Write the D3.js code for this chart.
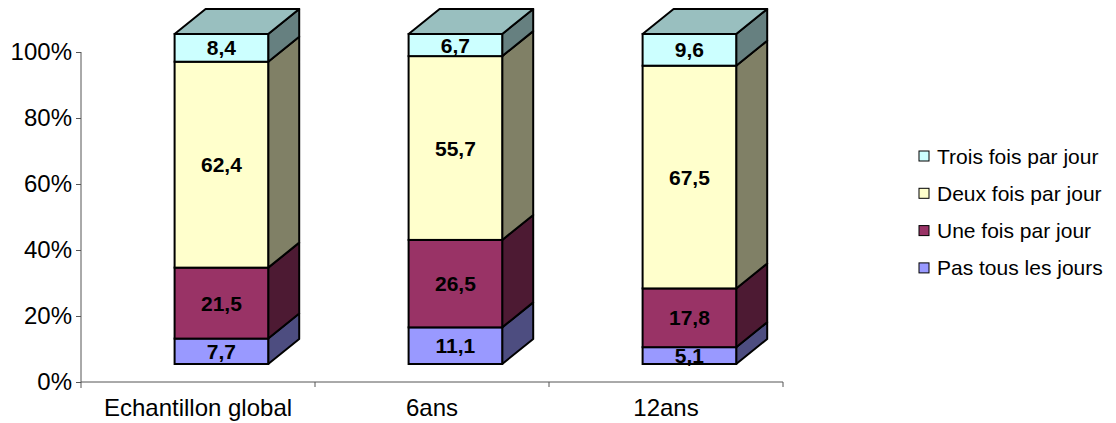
<!DOCTYPE html>
<html><head><meta charset="utf-8">
<script src="https://cdn.jsdelivr.net/npm/d3@7"></script>
<style>
html,body{margin:0;padding:0;background:#fff;}
svg{display:block;font-family:"Liberation Sans",Arial,sans-serif;}
</style></head>
<body><svg id="c" width="1116" height="423"></svg>
<script>
const categories = ["Echantillon global", "6ans", "12ans"];
const seriesNames = ["Pas tous les jours", "Une fois par jour", "Deux fois par jour", "Trois fois par jour"];
const pasTous = [7.7, 11.1, 5.1];
const uneFois = [21.5, 26.5, 17.8];
const deuxFois = [62.4, 55.7, 67.5];
const troisFois = [8.4, 6.7, 9.6];
const yTicks = [0, 20, 40, 60, 80, 100];
const frontColors = ["#9999FF", "#993366", "#FFFFCC", "#CCFFFF"];
const sideColors = ["#4D4D80", "#4D1A33", "#808066", "#668080"];
const topColor = "#99BFBF";

const seriesValues = [pasTous, uneFois, deuxFois, troisFois];
const svg = d3.select("#c");
const x = d3.scaleBand().domain(categories).range([81, 783]);
const y = d3.scaleLinear().domain([0, 100]).range([382, 52]);
const dx = 31, dy = -25, fOff = -18;

// axes
const axisColor = "#555";
const gy = svg.append("g").attr("transform","translate(81,0)")
  .call(d3.axisLeft(y).tickValues(yTicks).tickSize(5).tickPadding(4).tickFormat(d => d + "%"));
gy.select(".domain").attr("stroke", axisColor).attr("d", `M0,${y(100)}V${y(0)+6}`);
gy.selectAll(".tick line").attr("stroke", axisColor);
gy.selectAll(".tick text").attr("font-size", 24).attr("fill","#000")
  .attr("font-family","Liberation Sans, Arial, sans-serif");

const gx = svg.append("g").attr("transform",`translate(0,${y(0)})`)
  .call(d3.axisBottom(x).tickSize(0).tickPadding(17));
gx.select(".domain").attr("stroke", axisColor).attr("d", `M81,0H783`);
gx.selectAll(".tick text").attr("font-size", 24).attr("fill","#000")
  .attr("font-family","Liberation Sans, Arial, sans-serif");
// category separator ticks
gx.selectAll(".sep").data(categories).enter().append("line")
  .attr("x1", d => x(d) + x.bandwidth()).attr("x2", d => x(d) + x.bandwidth())
  .attr("y1", 0).attr("y2", 5).attr("stroke", axisColor);

// bars
const bw = x.bandwidth() * 0.4;
categories.forEach((cat, ci) => {
  const x0 = x(cat) + x.bandwidth() * 0.4;
  const g = svg.append("g");
  let cum = 0;
  const segs = seriesValues.map((vals, si) => {
    const s = {si, v: vals[ci], y0: cum, y1: cum + vals[ci]};
    cum += vals[ci];
    return s;
  });
  segs.forEach(s => {
    const yt = y(s.y1) + fOff, yb = y(s.y0) + fOff;
    g.append("path")
      .attr("d", `M${x0+bw},${yt}L${x0+bw+dx},${yt+dy}L${x0+bw+dx},${yb+dy}L${x0+bw},${yb}Z`)
      .attr("fill", sideColors[s.si]).attr("stroke","#000").attr("stroke-width",2).attr("stroke-linejoin","round");
    g.append("rect").attr("x", x0).attr("y", yt).attr("width", bw).attr("height", yb - yt)
      .attr("fill", frontColors[s.si]).attr("stroke","#000").attr("stroke-width",2);
  });
  const top = y(cum) + fOff;
  g.append("path")
    .attr("d", `M${x0},${top}L${x0+dx},${top+dy}L${x0+bw+dx},${top+dy}L${x0+bw},${top}Z`)
    .attr("fill", topColor).attr("stroke","#000").attr("stroke-width",2).attr("stroke-linejoin","round");
  segs.forEach(s => {
    const yc = (y(s.y1) + y(s.y0)) / 2 + fOff;
    g.append("text").attr("x", x0 + bw/2).attr("y", yc).attr("dy","0.36em")
      .attr("text-anchor","middle").attr("font-size",21).attr("font-weight","bold")
      .text(String(s.v).replace(".", ","));
  });
});

// legend
const legendOrder = [3, 2, 1, 0];
const lg = svg.append("g");
legendOrder.forEach((si, i) => {
  const cy = 156 + i * 37.3;
  lg.append("rect").attr("x", 919).attr("y", cy - 5).attr("width", 10).attr("height", 10)
    .attr("fill", frontColors[si]).attr("stroke","#000").attr("stroke-width",1);
  lg.append("text").attr("x", 937).attr("y", cy).attr("dy","0.36em")
    .attr("font-size", 21).text(seriesNames[si]);
});
</script>
</body></html>
